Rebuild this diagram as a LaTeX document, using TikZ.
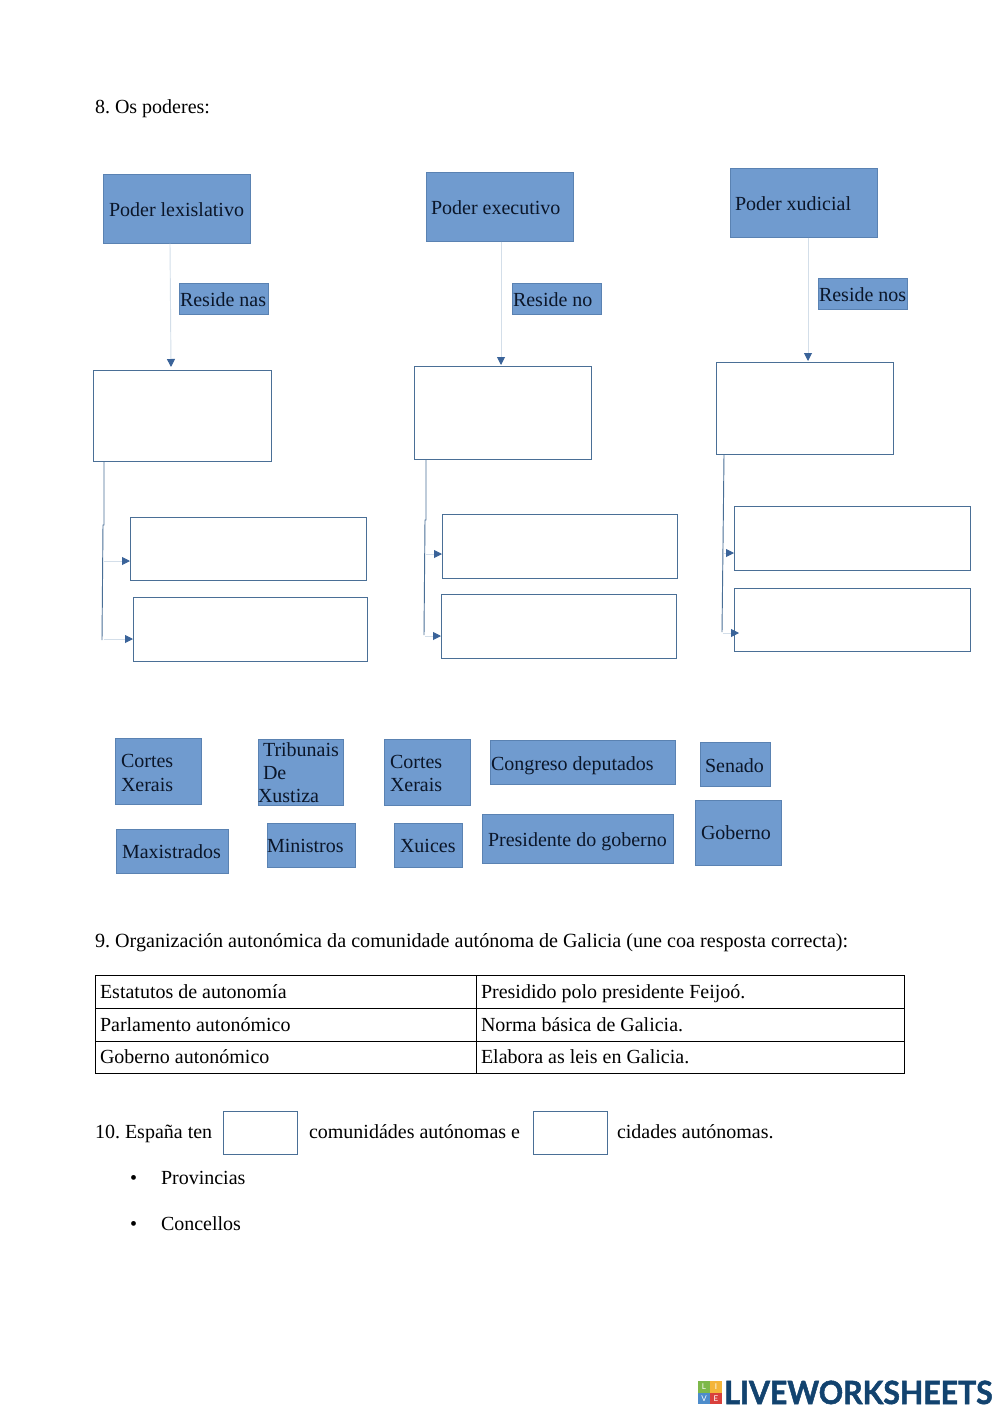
\documentclass[tikz,border=0pt]{standalone}
\usepackage{fontspec}
\setmainfont{Liberation Serif}
\newfontfamily\logofont[BoldFeatures={FakeBold=1.6}]{Lato}
\usetikzlibrary{arrows.meta,calc}
\definecolor{tilefill}{HTML}{709BCF}
\definecolor{tileedge}{HTML}{5A82B2}
\definecolor{emptyedge}{HTML}{4A6F96}
\definecolor{tiletext}{HTML}{0B1629}
\definecolor{arrowblue}{HTML}{3A6399}
\definecolor{paleline}{HTML}{D3DEE9}
\definecolor{logoblue}{HTML}{12436F}
\definecolor{logogreen}{HTML}{7DB84A}
\definecolor{logoorange}{HTML}{F4B53A}
\definecolor{logosky}{HTML}{4D8CCB}
\definecolor{logored}{HTML}{D9403C}
\tikzset{
  x=0.75pt,y=-0.75pt,
  txt/.style={font=\fontsize{15pt}{18pt}\selectfont,text=black,inner sep=0pt,outer sep=0pt,anchor=base west},
  tiletxt/.style={txt,text=tiletext},
  sq/.style={anchor=north west,inner sep=0pt,outer sep=0pt},
  tile/.style={sq,draw=tileedge,fill=tilefill,line width=0.6pt},
  slot/.style={sq,draw=emptyedge,fill=white,line width=0.65pt},
  cellbox/.style={sq,draw=black,line width=0.5pt},
  pale/.style={draw=paleline,line width=0.7pt,-{Triangle[length=6pt,width=6pt,color=arrowblue]}},
  trunk/.style={draw=emptyedge,line width=0.7pt},
  logosq/.style={anchor=center,inner sep=0pt,minimum size=8.6pt,text=white,font=\logofont\fontsize{6pt}{6pt}\selectfont},
}
% name, style, x0, y0, x1, y1
\newcommand{\bx}[6]{\node[#2,minimum width={(#5-#3-0.3)*0.75pt},minimum height={(#6-#4-0.3)*0.75pt}] (#1) at (#3,#4) {};}
\newcommand{\cellb}[5]{\node[cellbox,minimum width={(#4-#2)*0.75pt},minimum height={(#5-#3)*0.75pt}] (#1) at (#2,#3) {};}
\frenchspacing
\begin{document}
\begin{tikzpicture}
\useasboundingbox (0,0) rectangle (1000,1413);
\node[txt] (h8) at (95,113.5) {8. Os poderes:};
% column heads
\bx{pl}{tile}{103}{174}{251}{244}
\node[tiletxt] (plt) at (109,216) {Poder lexislativo};
\bx{pe}{tile}{426}{172}{574}{242}
\node[tiletxt] (pet) at (431,214) {Poder executivo};
\bx{px}{tile}{730}{168}{878}{238}
\node[tiletxt] (pxt) at (735,210) {Poder xudicial};
% reside
\bx{ra}{tile}{179}{283}{269}{315}
\node[tiletxt] (rat) at (180,306) {Reside nas};
\bx{rb}{tile}{512}{283}{602}{315}
\node[tiletxt] (rbt) at (513,306) {Reside no};
\bx{rc}{tile}{818}{278}{908}{310}
\node[tiletxt] (rct) at (819,301) {Reside nos};
% empty boxes
\bx{a0}{slot}{93}{370}{272}{462}
\bx{b0}{slot}{414}{366}{592}{460}
\bx{c0}{slot}{716}{362}{894}{455}
\bx{a1}{slot}{130}{517}{367}{581}
\bx{a2}{slot}{133}{597}{368}{662}
\bx{b1}{slot}{442}{514}{678}{579}
\bx{b2}{slot}{441}{594}{677}{659}
\bx{c1}{slot}{734}{506}{971}{571}
\bx{c2}{slot}{734}{588}{971}{652}
% connectors
\draw[pale] ($(pl.south west)+(67,0)$) -- ($(a0.north west)+(78,-3)$);
\draw[pale] ($(pe.south west)+(75,0)$) -- ($(b0.north west)+(87,-1)$);
\draw[pale] ($(px.south west)+(78,0)$) -- ($(c0.north west)+(92,-1)$);
\draw[trunk] ($(a0.south west)+(11,0)$) -- (104,525) -- (103,525) -- (102,640);
\draw[trunk] ($(b0.south west)+(12,0)$) -- (426,520) -- (425,520) -- (424,635);
\draw[trunk] ($(c0.south west)+(8,0)$) -- (723,545) -- (722,632);
\draw[pale] (104,561) -- (a1.west |- 0,561);
\draw[pale] (104,639) -- (a2.west |- 0,639);
\draw[pale] (426,554) -- (b1.west |- 0,554);
\draw[pale] (425,636) -- (b2.west |- 0,636);
\draw[pale] (724,553) -- (c1.west |- 0,553);
\draw[pale] (723,633) -- ($(c2.west |- 0,633)+(5,0)$);
% tiles
\bx{t1}{tile}{115}{738}{202}{805}
\node[tiletxt] (t1a) at (121,767) {Cortes};
\node[tiletxt] (t1b) at (121,791) {Xerais};
\bx{t2}{tile}{258}{739}{344}{806}
\node[tiletxt] (t2a) at (263,756) {Tribunais};
\node[tiletxt] (t2b) at (263,779) {De};
\node[tiletxt] (t2c) at (258,802) {Xustiza};
\bx{t3}{tile}{384}{739}{471}{806}
\node[tiletxt] (t3a) at (390,768) {Cortes};
\node[tiletxt] (t3b) at (390,791) {Xerais};
\bx{t4}{tile}{490}{740}{676}{785}
\node[tiletxt] (t4a) at (491,770) {Congreso deputados};
\bx{t5}{tile}{700}{742}{771}{787}
\node[tiletxt] (t5a) at (705,772) {Senado};
\bx{t6}{tile}{116}{829}{229}{874}
\node[tiletxt] (t6a) at (122,858) {Maxistrados};
\bx{t7}{tile}{267}{823}{356}{868}
\node[tiletxt] (t7a) at (267,852) {Ministros};
\bx{t8}{tile}{394}{823}{463}{868}
\node[tiletxt] (t8a) at (400,852) {Xuices};
\bx{t9}{tile}{482}{814}{674}{864}
\node[tiletxt] (t9a) at (488,846) {Presidente do goberno};
\bx{t10}{tile}{695}{800}{782}{866}
\node[tiletxt] (t10a) at (701,839) {Goberno};
% section 9
\node[txt,font=\fontsize{15.1pt}{18pt}\selectfont] (h9) at (95,947) {9. Organización autonómica da comunidade autónoma de Galicia (une coa resposta correcta):};
\cellb{c11}{95}{975}{476}{1008}
\cellb{c12}{476}{975}{904}{1008}
\cellb{c21}{95}{1008}{476}{1041}
\cellb{c22}{476}{1008}{904}{1041}
\cellb{c31}{95}{1041}{476}{1073}
\cellb{c32}{476}{1041}{904}{1073}
\node[txt] (c11t) at (100,998) {Estatutos de autonomía};
\node[txt] (c12t) at (481,998) {Presidido polo presidente Feijoó.};
\node[txt] (c21t) at (100,1031) {Parlamento autonómico};
\node[txt] (c22t) at (481,1031) {Norma básica de Galicia.};
\node[txt] (c31t) at (100,1063) {Goberno autonómico};
\node[txt] (c32t) at (481,1063) {Elabora as leis en Galicia.};
% section 10
\node[txt] (h10) at (95,1138) {10. España ten};
\bx{s1}{slot}{223}{1111}{298}{1155}
\node[txt] (h10b) at (309,1138) {comunidádes autónomas e};
\bx{s2}{slot}{533}{1111}{608}{1155}
\node[txt] (h10c) at (617,1138) {cidades autónomas.};
\node[txt] (b1dot) at (130,1184) {•};
\node[txt] (b1t) at (161,1184) {Provincias};
\node[txt] (b2dot) at (130,1230) {•};
\node[txt] (b2t) at (161,1230) {Concellos};
% logo
\node[logosq,fill=logogreen] (l1) at (704,1387) {L};
\node[logosq,fill=logoorange] (l2) at (716,1387) {I};
\node[logosq,fill=logosky] (l3) at (704,1398.5) {V};
\node[logosq,fill=logored] (l4) at (716,1398.5) {E};
\node[anchor=base west,inner sep=0pt,text=logoblue,font=\logofont\bfseries\fontsize{24pt}{24pt}\selectfont] (logo) at (724,1404) {\scalebox{0.945}[1]{LIVEWORKSHEETS}};
\end{tikzpicture}
\end{document}
